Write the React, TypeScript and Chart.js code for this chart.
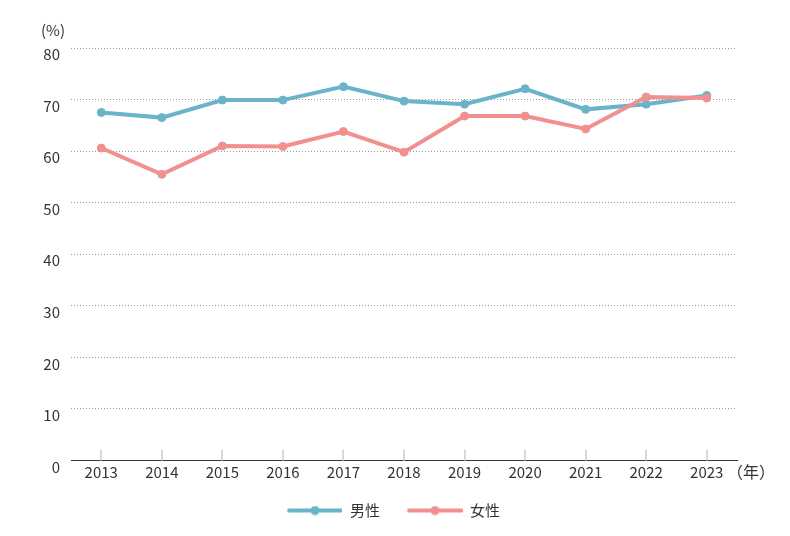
import React, { useEffect, useRef } from "react";
import { Chart, registerables } from "chart.js";

Chart.register(...registerables);

const years = ["2013", "2014", "2015", "2016", "2017", "2018", "2019", "2020", "2021", "2022", "2023"];
const maleValues = [67.5, 66.5, 69.9, 69.9, 72.5, 69.7, 69.1, 72.1, 68.1, 69.1, 70.8];
const femaleValues = [60.6, 55.5, 61.0, 60.9, 63.8, 59.8, 66.8, 66.8, 64.3, 70.5, 70.3];
const seriesLabels = ["男性", "女性"];
const yMin = 0;
const yMax = 80;
const yStep = 10;
const yUnit = "(%)";
const xUnit = "（年）";

const FONT = "'Noto Sans CJK JP', 'Noto Sans', sans-serif";
const TEXT = "#333333";
const BLUE = "#6ab3c8";
const RED = "#f28f8f";

const SWATCH_W = 63;

function makeLegendSwatch(color: string): HTMLCanvasElement {
  const c = document.createElement("canvas");
  c.width = SWATCH_W;
  c.height = 10;
  const g = c.getContext("2d")!;
  const x0 = 7.5;
  const x1 = 63.5;
  g.strokeStyle = color;
  g.lineWidth = 4;
  g.lineCap = "round";
  g.beginPath();
  g.moveTo(x0 + 2, 5);
  g.lineTo(x1 - 2, 5);
  g.stroke();
  g.fillStyle = color;
  g.beginPath();
  g.arc((x0 + x1) / 2, 5, 4.5, 0, Math.PI * 2);
  g.fill();
  return c;
}

const extrasPlugin = {
  id: "extras",
  beforeDatasetsDraw(chart: any) {
    const { ctx, chartArea, scales } = chart;
    const x = scales.x;
    ctx.save();
    ctx.strokeStyle = "#d8d8d8";
    ctx.lineWidth = 2;
    years.forEach((_, i) => {
      const px = Math.round(x.getPixelForValue(i));
      ctx.beginPath();
      ctx.moveTo(px, chartArea.bottom - 11);
      ctx.lineTo(px, chartArea.bottom);
      ctx.stroke();
    });
    ctx.restore();
  },
  afterDraw(chart: any) {
    const { ctx, chartArea } = chart;
    ctx.save();
    ctx.fillStyle = TEXT;
    ctx.textBaseline = "middle";
    ctx.textAlign = "left";
    ctx.font = `15px ${FONT}`;
    ctx.fillText(yUnit, 41, 30);
    ctx.font = `16px ${FONT}`;
    ctx.fillText(xUnit, 727, chartArea.bottom + 11.5);
    ctx.restore();
  },
};

export default function App() {
  const ref = useRef<HTMLCanvasElement | null>(null);

  useEffect(() => {
    if (!ref.current) return;
    const swatches = [makeLegendSwatch(BLUE), makeLegendSwatch(RED)];
    const chart = new Chart(ref.current, {
      type: "line",
      data: {
        labels: years,
        datasets: [
          {
            label: seriesLabels[0],
            data: maleValues,
            borderColor: BLUE,
            backgroundColor: BLUE,
            pointBackgroundColor: BLUE,
            pointBorderColor: BLUE,
            borderWidth: 4,
            pointRadius: 4,
            pointBorderWidth: 1,
            tension: 0,
            order: 1,
          },
          {
            label: seriesLabels[1],
            data: femaleValues,
            borderColor: RED,
            backgroundColor: RED,
            pointBackgroundColor: RED,
            pointBorderColor: RED,
            borderWidth: 4,
            pointRadius: 4,
            pointBorderWidth: 1,
            tension: 0,
            order: 0,
          },
        ],
      },
      options: {
        responsive: false,
        animation: false,
        layout: { padding: { left: 30, right: 40.5, top: 48, bottom: 8 } },
        plugins: {
          tooltip: { enabled: false },
          legend: {
            position: "bottom",
            labels: {
              usePointStyle: true,
              pointStyleWidth: SWATCH_W,
              padding: 19.5,
              color: TEXT,
              font: { family: FONT, size: 15 },
              generateLabels: (c: any) =>
                c.data.datasets.map((ds: any, i: number) => ({
                  text: ds.label,
                  fillStyle: ds.borderColor,
                  strokeStyle: ds.borderColor,
                  lineWidth: 0,
                  pointStyle: swatches[i],
                  fontColor: TEXT,
                  hidden: false,
                  datasetIndex: i,
                })),
            },
          },
        },
        scales: {
          x: {
            offset: true,
            grid: { display: false, drawTicks: false },
            border: { display: true, color: "#333333", width: 1 },
            ticks: { color: TEXT, font: { family: FONT, size: 15 }, padding: 2.5, maxRotation: 0, autoSkip: false },
          },
          y: {
            min: yMin,
            max: yMax,
            grid: {
              drawTicks: false,
              lineWidth: 1,
              color: (c: any) => (c.tick && c.tick.value === 0 ? "rgba(0,0,0,0)" : "#999999"),
            },
            border: { display: false, dash: [1, 2] },
            ticks: {
              stepSize: yStep,
              color: TEXT,
              font: { family: FONT, size: 15 },
              padding: 11,
              labelOffset: 6.5,
            },
            afterFit: (s: any) => {
              s.width = 41;
            },
          },
          yRightSpacer: {
            type: "linear",
            position: "right",
            display: true,
            grid: { display: false },
            border: { display: false },
            ticks: { display: false },
            afterFit: (s: any) => {
              s.width = 12.5;
            },
          },
        },
      },
      plugins: [extrasPlugin],
    } as any);
    return () => chart.destroy();
  }, []);

  return (
    <div style={{ position: "absolute", left: 0, top: 0, width: 790, height: 536 }}>
      <canvas ref={ref} width={790} height={536} style={{ display: "block" }} />
    </div>
  );
}
